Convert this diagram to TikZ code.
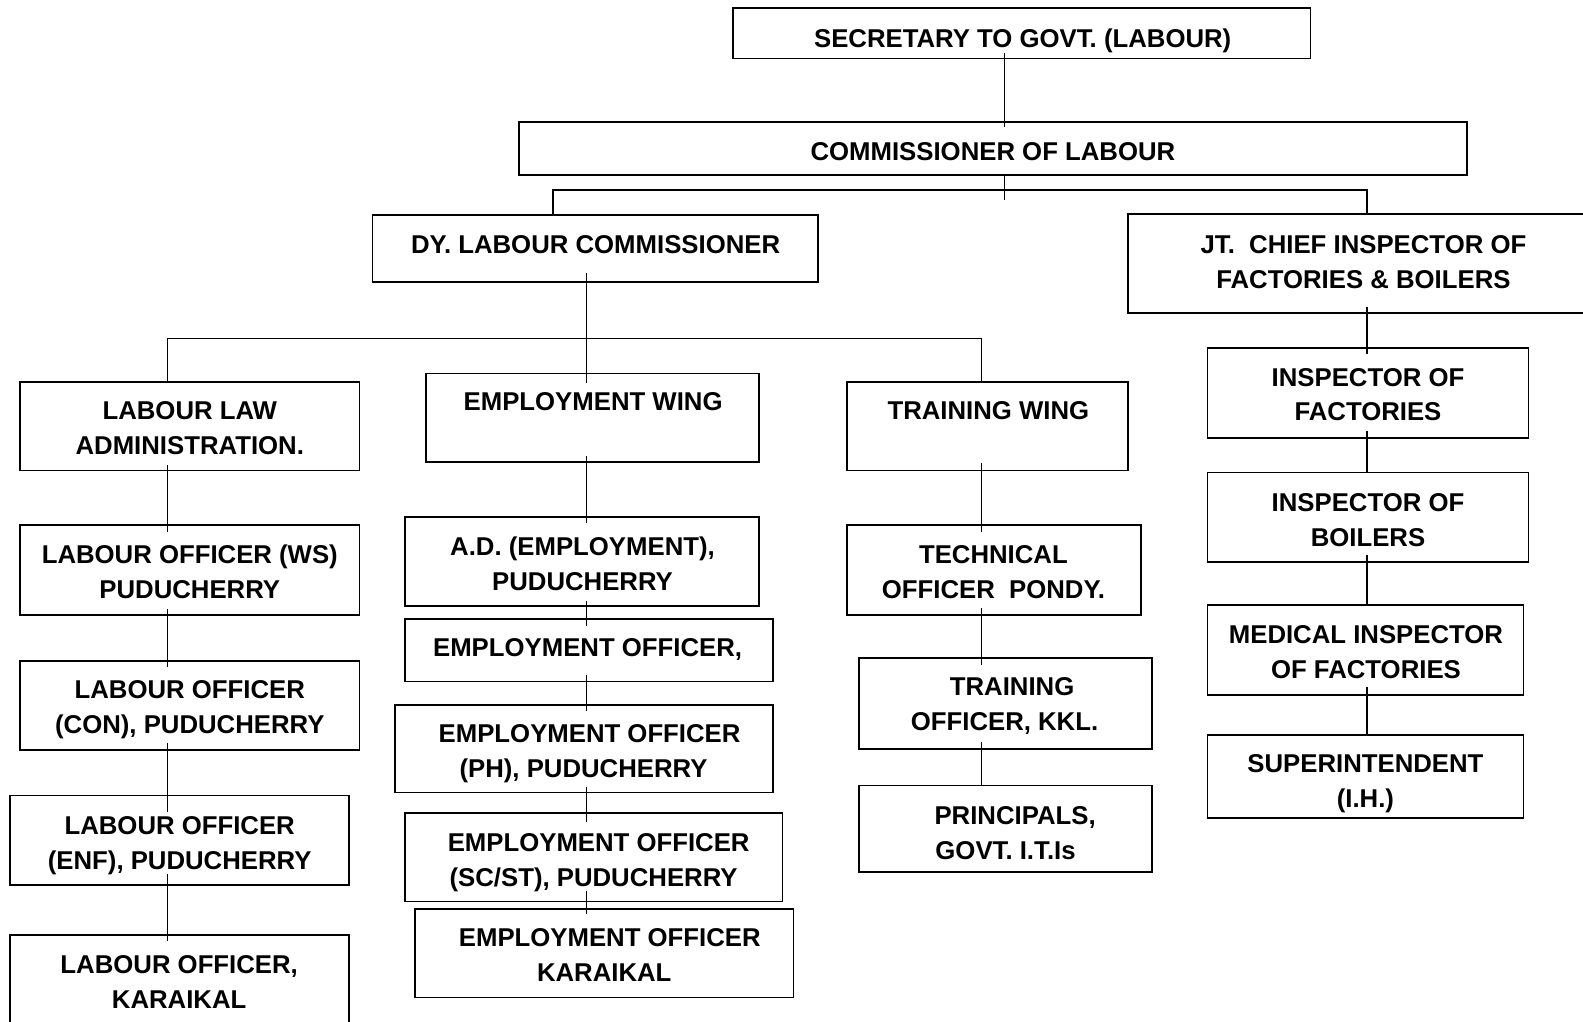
\documentclass[tikz,border=0pt]{standalone}
\usepackage{fontspec}
\setmainfont{Liberation Sans}
\usetikzlibrary{calc}

\tikzset{
  orgbox/.style={draw=black, line width=1.8pt, inner sep=0pt},
  orgtext/.style={anchor=north, inner sep=0pt, align=center,
    font=\fontsize{25.5}{34.5}\selectfont\bfseries},
  link/.style={draw=black, line width=1.2pt},
  bus/.style={draw=black, line width=1.5pt},
}

% box from (x1,y1) to (x2,y2); text centred at x, first cap line centred at y
% #1 name, #2 x1, #3 y1, #4 x2, #5 y2, #6 text x, #7 text y, #8 text
\newcommand\orgunit[8]{%
  \node[orgbox, minimum width={#4-#2}, minimum height={#5-#3}] (#1)
    at ({(#2+#4)/2},{(#3+#5)/2}) {};
  \node[orgtext] (#1-t) at (#6,{#7-15}) {\strut#8};
}
\newcommand\nl{\\\strut}

\begin{document}
\begin{tikzpicture}[x=1pt, y=-1pt]
  \fill[white] (0,0) rectangle (1568,1012);
  \useasboundingbox (0,0) rectangle (1568,1012);

  % top levels
  \orgunit{sec}{726}{8}{1298}{58}{1013}{37.5}{SECRETARY TO GOVT. (LABOUR)}
  \orgunit{com}{514}{121}{1453}{173}{983.5}{149.5}{COMMISSIONER OF LABOUR}
  \orgunit{dy}{369}{213}{810}{279}{590}{242}{DY. LABOUR COMMISSIONER}
  \orgunit{jt}{1117}{212}{1590}{310}{1350.5}{242}{JT.~~CHIEF INSPECTOR OF\nl FACTORIES \& BOILERS}

  % wings
  \orgunit{lla}{20}{378}{356}{466}{188}{406}{LABOUR LAW\nl ADMINISTRATION.}
  \orgunit{ew}{422}{370}{752}{458}{587.5}{397}{EMPLOYMENT WING}
  \orgunit{tw}{839}{378}{1117}{466}{979}{406}{TRAINING WING}

  % labour law administration
  \orgunit{ws}{20}{520}{356}{609}{188}{549}{LABOUR OFFICER (WS)\nl PUDUCHERRY}
  \orgunit{con}{20}{655}{356}{743}{188}{683}{LABOUR OFFICER\nl (CON), PUDUCHERRY}
  \orgunit{enf}{10}{788}{346}{877}{178}{817}{LABOUR OFFICER\nl (ENF), PUDUCHERRY}
  \orgunit{kar}{10}{926}{346}{1030}{177.5}{955}{LABOUR OFFICER,\nl KARAIKAL}

  % employment wing
  \orgunit{ad}{401}{512}{752}{600}{577}{541}{A.D. (EMPLOYMENT),\nl PUDUCHERRY}
  \orgunit{eo1}{401}{613}{766}{675}{582}{641}{EMPLOYMENT OFFICER,}
  \orgunit{ph}{391}{698}{766}{785}{578}{726}{\hspace*{12pt}EMPLOYMENT OFFICER\nl (PH), PUDUCHERRY}
  \orgunit{scst}{401}{805}{775}{893}{588}{834}{\hspace*{10pt}EMPLOYMENT OFFICER\nl (SC/ST), PUDUCHERRY}
  \orgunit{eok}{411}{900}{786}{988}{598.5}{928}{\hspace*{11pt}EMPLOYMENT OFFICER\nl KARAIKAL}

  % training wing
  \orgunit{to}{839}{520}{1130}{609}{984}{549}{TECHNICAL\nl OFFICER~~PONDY.}
  \orgunit{tro}{851}{652}{1141}{742}{995}{680}{\hspace*{15pt}TRAINING\nl OFFICER, KKL.}
  \orgunit{pr}{851}{778}{1141}{864}{996}{807}{\hspace*{19pt}PRINCIPALS,\nl GOVT. I.T.Is}

  % factories and boilers
  \orgunit{if}{1196}{345}{1514}{434}{1355}{373}{INSPECTOR OF\nl FACTORIES}
  \orgunit{ib}{1196}{468}{1514}{557}{1355}{497}{INSPECTOR OF\nl BOILERS}
  \orgunit{mi}{1196}{599}{1509}{688}{1353}{628}{MEDICAL INSPECTOR\nl OF FACTORIES}
  \orgunit{su}{1196}{728}{1509}{810}{1352.5}{756}{SUPERINTENDENT\nl (I.H.)}

  % columns of the vertical trunks
  \coordinate (xa) at (995,0);
  \coordinate (xd) at (548,0);
  \coordinate (xl) at (166,0);
  \coordinate (xe) at (581,0);
  \coordinate (xt) at (972,0);
  \coordinate (xj) at (1354,0);

  % secretary -> commissioner -> two branches
  \draw[link] ($(xa |- sec.south)+(0,-6.5)$) -- ($(xa |- com.north)+(0,6)$);
  \draw[link] (xa |- com.south) -- ++(0,24);
  \draw[bus] (xd |- dy.north) -- ++(0,-24) -| (xj |- jt.north);

  % deputy commissioner -> wings
  \draw[link] ($(xe |- dy.south)+(0,-9)$) -- ($(xe |- ew.north)+(0,10)$);
  \draw[bus] (xl |- lla.north) -- ++(0,-42) -| (xt |- tw.north);

  % labour law chain
  \draw[link] ($(xl |- lla.south)+(0,-6)$) -- ($(xl |- ws.north)+(0,8)$);
  \draw[link] ($(xl |- ws.south)+(0,-7)$) -- ($(xl |- con.north)+(0,7)$);
  \draw[link] ($(xl |- con.south)+(0,-8)$) -- ($(xl |- enf.north)+(0,17)$);
  \draw[link] ($(xl |- enf.south)+(0,-12)$) -- ($(xl |- kar.north)+(0,7)$);

  % employment chain
  \draw[link] ($(xe |- ew.south)+(0,-7)$) -- ($(xe |- ad.north)+(0,7)$);
  \draw[link] ($(xe |- ad.south)+(0,-6)$) -- ($(xe |- eo1.north)+(0,8)$);
  \draw[link] ($(xe |- eo1.south)+(0,-7)$) -- ($(xe |- ph.north)+(0,7)$);
  \draw[link] ($(xe |- ph.south)+(0,-6)$) -- ($(xe |- scst.north)+(0,10)$);
  \draw[link] ($(xe |- scst.south)+(0,-11.5)$) -- ($(xe |- eok.north)+(0,6)$);

  % training chain
  \draw[link] ($(xt |- tw.south)+(0,-8)$) -- ($(xt |- to.north)+(0,8)$);
  \draw[link] ($(xt |- to.south)+(0,-8)$) -- ($(xt |- tro.north)+(0,8)$);
  \draw[link] ($(xt |- tro.south)+(0,-8)$) -- (xt |- pr.north);

  % factories and boilers chain
  \draw[link] ($(xj |- jt.south)+(0,-7)$) -- ($(xj |- if.north)+(0,7)$);
  \draw[link] ($(xj |- if.south)+(0,-8)$) -- (xj |- ib.north);
  \draw[link] ($(xj |- ib.south)+(0,-8)$) -- (xj |- mi.north);
  \draw[link] ($(xj |- mi.south)+(0,-8)$) -- (xj |- su.north);
\end{tikzpicture}
\end{document}
